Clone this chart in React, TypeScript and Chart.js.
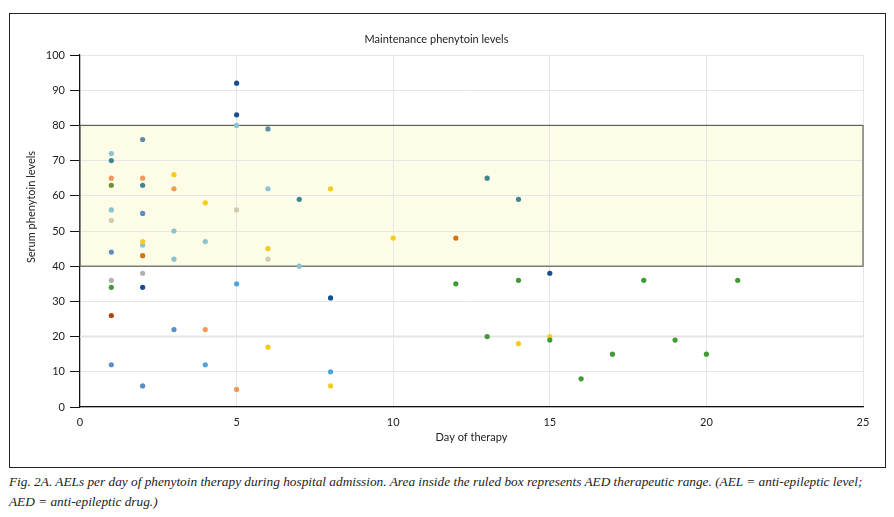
import React, { useEffect, useRef } from "react";
import { Chart, registerables } from "chart.js";

Chart.register(...registerables);

const TITLE = "Maintenance phenytoin levels";
const X_TITLE = "Day of therapy";
const Y_TITLE = "Serum phenytoin levels";
const CAPTION_1 =
  "Fig. 2A. AELs per day of phenytoin therapy during hospital admission. Area inside the ruled box represents AED therapeutic range. (AEL = anti-epileptic level;";
const CAPTION_2 = "AED = anti-epileptic drug.)";

const RANGE_LOW = 40;
const RANGE_HIGH = 80;

const greenDays = [1, 12, 13, 14, 15, 16, 17, 18, 19, 20, 21];
const greenLevels = [34, 35, 20, 36, 19, 8, 15, 36, 19, 15, 36];
const oliveDays = [1];
const oliveLevels = [63];
const yellowDays = [2, 3, 4, 6, 6, 8, 8, 10, 14, 15];
const yellowLevels = [47, 66, 58, 45, 17, 62, 6, 48, 18, 20];
const lightOrangeDays = [1, 2, 3, 4, 5];
const lightOrangeLevels = [65, 65, 62, 22, 5];
const darkOrangeDays = [2, 12];
const darkOrangeLevels = [43, 48];
const rustDays = [1];
const rustLevels = [26];
const tealDays = [1, 2, 7, 13, 14];
const tealLevels = [70, 63, 59, 65, 59];
const slateDays = [2, 6];
const slateLevels = [76, 79];
const lightTealDays = [1, 1, 2, 3, 3, 4, 5, 6, 7];
const lightTealLevels = [72, 56, 46, 50, 42, 47, 80, 62, 40];
const beigeDays = [1, 5, 6];
const beigeLevels = [53, 56, 42];
const greyDays = [1, 2];
const greyLevels = [36, 38];
const steelDays = [1, 1, 2, 2, 3];
const steelLevels = [44, 12, 55, 6, 22];
const skyDays = [4, 5, 8];
const skyLevels = [12, 35, 10];
const navyDays = [2, 5, 5, 8, 15];
const navyLevels = [34, 83, 92, 31, 38];

const seriesList = [
  { days: greenDays, levels: greenLevels, color: "#3f9c35" },
  { days: oliveDays, levels: oliveLevels, color: "#6b9334" },
  { days: yellowDays, levels: yellowLevels, color: "#f5cb1d" },
  { days: lightOrangeDays, levels: lightOrangeLevels, color: "#f0995a" },
  { days: darkOrangeDays, levels: darkOrangeLevels, color: "#cf7514" },
  { days: rustDays, levels: rustLevels, color: "#b1440e" },
  { days: tealDays, levels: tealLevels, color: "#3f8695" },
  { days: slateDays, levels: slateLevels, color: "#5f8ca8" },
  { days: lightTealDays, levels: lightTealLevels, color: "#8ac3cf" },
  { days: beigeDays, levels: beigeLevels, color: "#cfcbb0" },
  { days: greyDays, levels: greyLevels, color: "#b3b0ad" },
  { days: steelDays, levels: steelLevels, color: "#5b8dc6" },
  { days: skyDays, levels: skyLevels, color: "#4fa3dc" },
  { days: navyDays, levels: navyLevels, color: "#174f8e" },
];

const X_TICKS = [0, 5, 10, 15, 20, 25];
const Y_TICKS = [0, 10, 20, 30, 40, 50, 60, 70, 80, 90, 100];

const FONT = "Lato, 'Open Sans', sans-serif";

const rangeBoxPlugin = {
  id: "rangeBox",
  beforeDraw(chart: any) {
    const { ctx, scales } = chart;
    const x0 = scales.x.getPixelForValue(scales.x.min);
    const x1 = scales.x.getPixelForValue(scales.x.max);
    const y0 = scales.y.getPixelForValue(RANGE_HIGH);
    const y1 = scales.y.getPixelForValue(RANGE_LOW);
    ctx.save();
    ctx.fillStyle = "#fdfce6";
    ctx.fillRect(x0, y0, x1 - x0, y1 - y0);
    ctx.restore();
  },
  beforeDatasetsDraw(chart: any) {
    const { ctx, scales } = chart;
    const x0 = scales.x.getPixelForValue(scales.x.min);
    const x1 = scales.x.getPixelForValue(scales.x.max);
    const y0 = scales.y.getPixelForValue(RANGE_HIGH);
    const y1 = scales.y.getPixelForValue(RANGE_LOW);
    const y20 = scales.y.getPixelForValue(20);
    ctx.save();
    ctx.strokeStyle = "#e4e4e4";
    ctx.lineWidth = 2;
    ctx.beginPath();
    ctx.moveTo(x0, y20);
    ctx.lineTo(x1, y20);
    ctx.stroke();
    ctx.strokeStyle = "#5f5f5a";
    ctx.lineWidth = 1.2;
    ctx.strokeRect(x0, y0, x1 - x0, y1 - y0);
    ctx.restore();
  },
  afterDraw(chart: any) {
    const { ctx } = chart;
    ctx.save();
    ctx.translate(21, 193);
    ctx.rotate(-Math.PI / 2);
    ctx.font = `11px ${FONT}`;
    ctx.fillStyle = "#222";
    ctx.textAlign = "center";
    ctx.textBaseline = "middle";
    ctx.fillText(Y_TITLE, 0, 0);
    ctx.restore();
  },
};

export default function App() {
  const canvasRef = useRef<HTMLCanvasElement | null>(null);

  useEffect(() => {
    if (!canvasRef.current) return;
    const chart = new Chart(canvasRef.current, {
      type: "scatter",
      data: {
        datasets: seriesList.map((s, i) => ({
          label: "s" + i,
          data: s.days.map((d, j) => ({ x: d, y: s.levels[j] })),
          backgroundColor: s.color,
          borderColor: s.color,
          borderWidth: 0,
          pointRadius: 2.6,
        })),
      },
      options: {
        animation: false,
        responsive: false,
        devicePixelRatio: 1,
        layout: { padding: { left: 0, right: 22, top: 0, bottom: 0 } },
        plugins: {
          legend: { display: false },
          tooltip: { enabled: false },
          title: {
            display: true,
            text: TITLE,
            color: "#222",
            font: { family: FONT, size: 11, weight: "normal" },
            padding: { top: 18.4, bottom: 9.4 },
          },
        },
        scales: {
          x: {
            type: "linear",
            min: 0,
            max: 25,
            afterBuildTicks: (scale: any) => {
              scale.ticks = X_TICKS.map((v) => ({ value: v }));
            },
            afterFit: (scale: any) => {
              scale.height = 60;
            },
            grid: { color: "#e6e6e6", drawTicks: false, lineWidth: 1 },
            border: { display: true, color: "#111", width: 1.2 },
            ticks: {
              color: "#222",
              font: { family: FONT, size: 11 },
              padding: 9,
              maxRotation: 0,
            },
            title: {
              display: true,
              text: X_TITLE,
              color: "#222",
              font: { family: FONT, size: 11 },
              padding: { top: 0, bottom: 23.4 },
            },
          },
          y: {
            type: "linear",
            min: 0,
            max: 100,
            afterBuildTicks: (scale: any) => {
              scale.ticks = Y_TICKS.map((v) => ({ value: v }));
            },
            afterFit: (scale: any) => {
              scale.width = 70;
            },
            grid: {
              color: "#e6e6e6",
              tickColor: "#111",
              tickLength: 10,
              lineWidth: 1,
            },
            border: { display: true, color: "#111", width: 1.2 },
            ticks: {
              color: "#222",
              font: { family: FONT, size: 11 },
              padding: 5,
            },
            title: { display: false },
          },
        },
      },
      plugins: [rangeBoxPlugin],
    } as any);
    return () => chart.destroy();
  }, []);

  return (
    <div style={{ fontFamily: FONT }}>
      <div
        style={{
          marginTop: 5,
          marginLeft: 1,
          width: 875,
          height: 453,
          border: "1px solid #222",
        }}
      >
        <canvas ref={canvasRef} width={875} height={453} style={{ display: "block", width: 875, height: 453 }} />
      </div>
      <div
        style={{
          marginTop: 4,
          marginLeft: 1,
          fontFamily: "'Liberation Serif', 'DejaVu Serif', serif",
          fontStyle: "italic",
          fontSize: 13.3,
          lineHeight: "20px",
          color: "#222",
          whiteSpace: "nowrap",
        }}
      >
        {CAPTION_1}
        <br />
        {CAPTION_2}
      </div>
    </div>
  );
}
